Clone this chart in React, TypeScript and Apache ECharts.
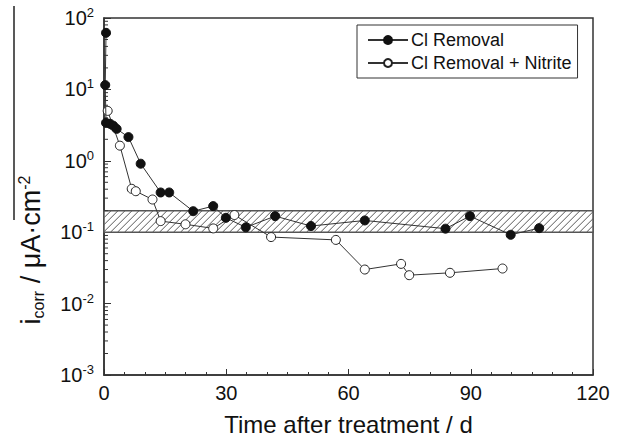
import React, { useEffect, useRef } from 'react';
import * as echarts from 'echarts';

// Cl Removal (filled circles)
const clTime = [0.5, 0.3, 0.5, 1.5, 2.3, 3.1, 6.0, 9.0, 13.9, 16.0, 21.9, 26.8, 29.9, 34.8, 42.0, 50.8, 64.0, 83.8, 89.8, 99.8, 106.8];
const clVal = [62, 11.5, 3.4, 3.3, 3.1, 2.8, 2.15, 0.91, 0.36, 0.36, 0.197, 0.232, 0.159, 0.117, 0.168, 0.122, 0.146, 0.112, 0.168, 0.092, 0.114];

// Cl Removal + Nitrite (open circles)
const nitTime = [0.9, 3.9, 6.8, 7.8, 11.9, 13.9, 20.0, 26.8, 32.0, 41.0, 56.9, 64.0, 72.9, 74.9, 84.9, 97.8];
const nitVal = [5.0, 1.63, 0.405, 0.375, 0.287, 0.143, 0.129, 0.113, 0.174, 0.0855, 0.078, 0.030, 0.036, 0.025, 0.027, 0.031];

// hatched reference band
const bandX = [0, 120];
const bandY = [0.1, 0.2];

// axes
const xMin = 0;
const xMax = 120;
const xInterval = 30;
const yMin = 0.001;
const yMax = 100;
const minorMultipliers = [2, 3, 4, 5, 6, 7, 8, 9];
const decadeStarts = [0.001, 0.01, 0.1, 1, 10];

const seriesNames = ['Cl Removal', 'Cl Removal + Nitrite'];
const xTitle = 'Time after treatment / d';

const FONT = '"Liberation Sans", Arial, sans-serif';

export default function App() {
  const ref = useRef<HTMLDivElement>(null);

  useEffect(() => {
    const chart = echarts.init(ref.current as HTMLDivElement, null, { renderer: 'svg' });

    const minorVals: number[][] = [];
    decadeStarts.forEach((d) => minorMultipliers.forEach((k) => minorVals.push([0, k * d])));

    const axisLineStyle = { color: '#333', width: 1.5 };

    chart.setOption({
      animation: false,
      backgroundColor: '#fff',
      grid: {
        left: 104,
        right: 29,
        top: 18,
        bottom: 64,
        show: true,
        borderColor: '#333',
        borderWidth: 1.5,
      },
      legend: {
        data: seriesNames,
        orient: 'vertical',
        left: 357,
        top: 25,
        borderColor: '#333',
        borderWidth: 1,
        borderRadius: 0,
        padding: [6, 6, 6, 10],
        itemWidth: 40,
        itemHeight: 10,
        itemGap: 5,
        textStyle: { fontSize: 18, color: '#111', fontFamily: FONT, padding: [0, 0, 0, -2] },
      },
      xAxis: {
        type: 'value',
        min: xMin,
        max: xMax,
        interval: xInterval,
        axisLine: { show: true, lineStyle: axisLineStyle },
        axisTick: { show: true, inside: true, length: 6, lineStyle: { color: '#333', width: 1 } },
        minorTick: { show: true, splitNumber: 6, length: 3, lineStyle: { color: '#333', width: 1 } },
        axisLabel: { fontSize: 20, color: '#111', margin: 8, fontFamily: FONT },
        splitLine: { show: false },
        name: xTitle,
        nameLocation: 'middle',
        nameGap: 37,
        nameTextStyle: { fontSize: 24, color: '#111', fontFamily: FONT },
      },
      yAxis: {
        type: 'log',
        logBase: 10,
        min: yMin,
        max: yMax,
        axisLine: { show: true, lineStyle: axisLineStyle },
        axisTick: { show: true, inside: true, length: 7, lineStyle: { color: '#333', width: 1 } },
        axisLabel: {
          margin: 10,
          color: '#111',
          formatter: (v: number) => {
            const e = Math.round(Math.log10(v));
            return `{b|10}{s|${e}}`;
          },
          rich: {
            b: { fontSize: 20, lineHeight: 24, fontFamily: FONT, color: '#111' },
            s: { fontSize: 13, lineHeight: 13, verticalAlign: 'top', fontFamily: FONT, color: '#111' },
          },
        },
        splitLine: { show: false },
      },
      graphic: [
        {
          type: 'line',
          shape: { x1: 14, y1: 6, x2: 14, y2: 220 },
          style: { stroke: '#222', lineWidth: 1.5 },
        },
        {
          type: 'text',
          x: 31,
          y: 250,
          rotation: Math.PI / 2,
          style: {
            text: '{n|i}{sub|corr}{n| / μA·cm}{sup|-2}',
            align: 'center',
            verticalAlign: 'middle',
            fill: '#111',
            rich: {
              n: { fontSize: 27, lineHeight: 30, fontFamily: FONT, fill: '#111' },
              sub: { fontSize: 16, lineHeight: 15, verticalAlign: 'bottom', fontFamily: FONT, fill: '#111' },
              sup: { fontSize: 16, lineHeight: 16, verticalAlign: 'top', fontFamily: FONT, fill: '#111' },
            },
          },
        },
      ],
      series: [
        {
          type: 'custom',
          name: 'band',
          silent: true,
          z: 1,
          data: [[bandX[0], bandY[0], bandX[1], bandY[1]]],
          renderItem: (params: any, api: any) => {
            const p0 = api.coord([api.value(0), api.value(1)]);
            const p1 = api.coord([api.value(2), api.value(3)]);
            const x0 = p0[0];
            const x1 = p1[0];
            const yTop = p1[1];
            const yBot = p0[1];
            const children: any[] = [
              { type: 'rect', shape: { x: x0, y: yTop, width: x1 - x0, height: yBot - yTop }, style: { fill: '#fff' } },
            ];
            const step = 7;
            for (let c = x0 + yTop; c <= x1 + yBot; c += step) {
              const xa = Math.max(x0, c - yBot);
              const xb = Math.min(x1, c - yTop);
              if (xb > xa) {
                children.push({
                  type: 'line',
                  shape: { x1: xa, y1: c - xa, x2: xb, y2: c - xb },
                  style: { stroke: '#444', lineWidth: 0.9 },
                });
              }
            }
            children.push({
              type: 'rect',
              shape: { x: x0, y: yTop, width: x1 - x0, height: yBot - yTop },
              style: { fill: 'none', stroke: '#555', lineWidth: 1.5 },
            });
            return { type: 'group', children };
          },
        },
        {
          type: 'custom',
          name: 'minorY',
          silent: true,
          z: 3,
          data: minorVals,
          renderItem: (params: any, api: any) => {
            const p = api.coord([api.value(0), api.value(1)]);
            return {
              type: 'line',
              shape: { x1: p[0], y1: p[1], x2: p[0] + 4, y2: p[1] },
              style: { stroke: '#333', lineWidth: 1 },
            };
          },
        },
        {
          type: 'line',
          name: seriesNames[1],
          z: 4,
          data: nitTime.map((t, i) => [t, nitVal[i]]),
          symbol: 'circle',
          symbolSize: 9,
          lineStyle: { color: '#333', width: 1 },
          itemStyle: { color: '#fff', borderColor: '#222', borderWidth: 1 },
        },
        {
          type: 'line',
          name: seriesNames[0],
          z: 5,
          data: clTime.map((t, i) => [t, clVal[i]]),
          symbol: 'circle',
          symbolSize: 9,
          lineStyle: { color: '#333', width: 1 },
          itemStyle: { color: '#111', borderColor: '#111', borderWidth: 1 },
        },
      ],
    });

    return () => chart.dispose();
  }, []);

  return <div ref={ref} style={{ position: 'absolute', left: 0, top: 0, width: 622, height: 441 }} />;
}
